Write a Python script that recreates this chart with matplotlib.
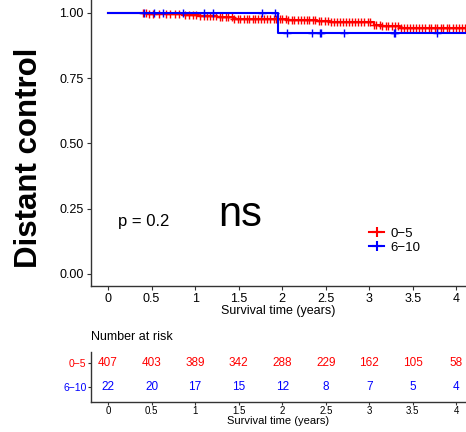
import numpy as np
import matplotlib
matplotlib.use("Agg")
import matplotlib.pyplot as plt

plt.rcParams['font.family'] = ['Liberation Sans', 'DejaVu Sans']

# Kaplan-Meier steps
red_times = [0.0, 0.45, 0.62, 0.85, 1.05, 1.25, 1.45, 1.75, 2.05, 2.40, 2.55, 3.05, 3.15, 3.35, 4.20]
red_surv = [1.000, 0.997, 0.994, 0.990, 0.986, 0.982, 0.978, 0.975, 0.972, 0.969, 0.963, 0.955, 0.948, 0.940, 0.940]
red_cens = [0.40, 0.44, 0.47, 0.52, 0.58, 0.66, 0.71, 0.77, 0.82, 0.88, 0.93, 0.97, 1.01, 1.06,
            1.10, 1.14, 1.17, 1.21, 1.24, 1.28, 1.31, 1.35, 1.38, 1.42, 1.45, 1.49, 1.52, 1.56,
            1.59, 1.62, 1.66, 1.69, 1.72, 1.76, 1.79, 1.83, 1.86, 1.90, 1.93, 1.97, 2.00, 2.04,
            2.07, 2.11, 2.14, 2.18, 2.21, 2.25, 2.28, 2.31, 2.35, 2.38, 2.42, 2.45, 2.49, 2.52,
            2.56, 2.59, 2.63, 2.66, 2.70, 2.73, 2.77, 2.80, 2.84, 2.87, 2.91, 2.94, 2.98, 3.01,
            3.05, 3.08, 3.12, 3.15, 3.19, 3.22, 3.26, 3.29, 3.33, 3.36, 3.40, 3.43, 3.47, 3.50,
            3.54, 3.57, 3.61, 3.64, 3.68, 3.71, 3.75, 3.78, 3.82, 3.85, 3.89, 3.92, 3.96, 3.99,
            4.03, 4.06, 4.10]

blue_times = [0.0, 1.95, 4.20]
blue_surv = [1.000, 0.923, 0.923]
blue_cens = [0.41, 0.53, 0.63, 0.86, 1.10, 1.21, 1.77, 1.92, 2.05, 2.34, 2.43, 2.44, 2.71, 3.28, 3.30, 3.78]

groups = ["0\u22125", "6\u221210"]
colors = ["#FF0000", "#0000FF"]
risk_times = [0, 0.5, 1, 1.5, 2, 2.5, 3, 3.5, 4]
risk_red = [407, 403, 389, 342, 288, 229, 162, 105, 58]
risk_blue = [22, 20, 17, 15, 12, 8, 7, 5, 4]
xticks = [0, 0.5, 1, 1.5, 2, 2.5, 3, 3.5, 4]
xticklabels = ["0", "0.5", "1", "1.5", "2", "2.5", "3", "3.5", "4"]

fig = plt.figure(figsize=(4.66, 4.32), dpi=100)
ax = fig.add_axes([0.1946, 0.338, 0.8054, 0.662])
axr = fig.add_axes([0.1946, 0.0701, 0.8054, 0.1149])

def surv_at(times, surv, t):
    idx = np.searchsorted(times, t, side='right') - 1
    return np.array(surv)[idx]

series = [(red_times, red_surv, red_cens), (blue_times, blue_surv, blue_cens)]
for (t, s, c), col, lab in zip(series, colors, groups):
    ax.step(t, s, where='post', color=col, lw=1.5)
    ax.plot(c, surv_at(t, s, c), ls='none', marker='+', ms=6, mew=1.0, color=col)
    ax.plot([], [], color=col, lw=1.5, marker='+', ms=7, mew=1.5, label=lab)

xlim = (-0.199, 4.11)
ax.set_xlim(*xlim)
ax.set_ylim(-0.046, 1.049)
ax.set_xticks(xticks)
ax.set_xticklabels(xticklabels)
ax.set_yticks([0, 0.25, 0.5, 0.75, 1.0])
ax.set_yticklabels(["0.00", "0.25", "0.50", "0.75", "1.00"])
ax.tick_params(labelsize=9, length=3, width=0.8, color='#333333', pad=2)
ax.set_xlabel("Survival time (years)", fontsize=9, labelpad=0)
ax.set_ylabel("Distant control", fontsize=22.5, fontweight='bold')
ax.yaxis.set_label_coords(-0.124, 0.449)
for sp in ['top', 'right']:
    ax.spines[sp].set_visible(False)
for sp in ['left', 'bottom']:
    ax.spines[sp].set_color('#333333')
    ax.spines[sp].set_linewidth(1.0)

ax.text(0.11, 0.2, "p = 0.2", fontsize=12, va='center', ha='left')
ax.text(1.52, 0.226, "ns", fontsize=30, va='center', ha='center')
ax.legend(loc='upper left', bbox_to_anchor=(0.725, 0.227), frameon=False, fontsize=9.5,
          handlelength=1.1, handletextpad=0.5, labelspacing=0.15, borderpad=0)

# risk table
for i, (vals, col) in enumerate(zip([risk_red, risk_blue], colors)):
    yrow = 2 - i
    for xt, v in zip(risk_times, vals):
        axr.text(xt, yrow, str(v), color=col, fontsize=8.5, ha='center', va='center')
axr.set_xlim(*xlim)
axr.set_ylim(0.359, 2.482)
axr.set_yticks([2, 1])
axr.set_yticklabels(groups)
for lbl, col in zip(axr.get_yticklabels(), colors):
    lbl.set_color(col)
axr.set_xticks(xticks)
axr.set_xticklabels(xticklabels)
axr.tick_params(axis='y', labelsize=7.5, length=2, width=0.8, color='#333333', pad=1)
axr.tick_params(axis='x', labelsize=7, length=2, width=0.8, color='#333333', pad=1)
axr.set_xlabel("Survival time (years)", fontsize=8, labelpad=0)
for sp in ['top', 'right']:
    axr.spines[sp].set_visible(False)
for sp in ['left', 'bottom']:
    axr.spines[sp].set_color('#333333')
    axr.spines[sp].set_linewidth(1.0)

fig.text(0.195, 1 - 337 / 432, "Number at risk", fontsize=9, va='center', ha='left')

fig.savefig("out.png", dpi=100)
